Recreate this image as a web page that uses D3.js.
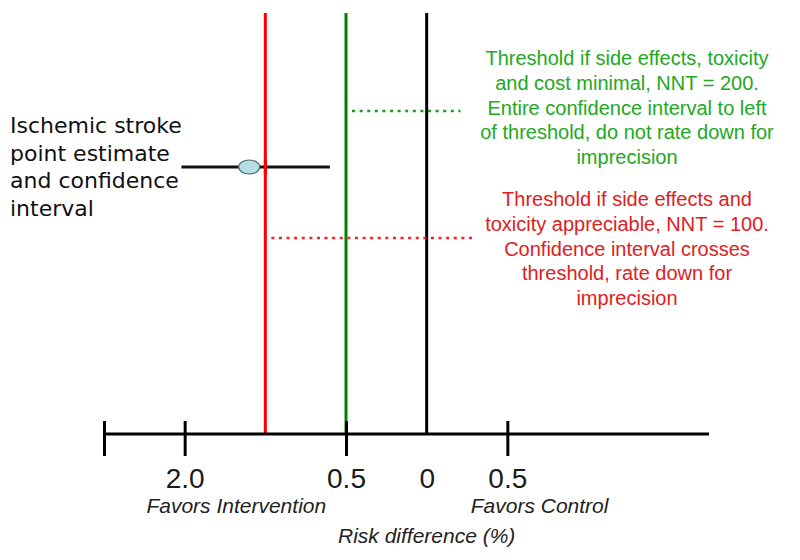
<!DOCTYPE html>
<html>
<head>
<meta charset="utf-8">
<script src="https://cdn.jsdelivr.net/npm/d3@7"></script>
<style>
    body { margin: 0; background: #fff; }
    svg { display: block; }
</style>
</head>
<body>
<script>
// data
const tickValues = [-2, -1.5, -0.5, 0, 0.5]
const tickLabels = ["", "2.0", "0.5", "0", "0.5"]
const thresholdValues = [-1, -0.5, 0]
const estimate = [-1.1]
const ciLow = [-1.52]
const ciHigh = [-0.6]

const strokeLabel = ["Ischemic stroke", "point estimate", "and confidence", "interval"]
const greenNote = ["Threshold if side effects, toxicity", "and cost minimal, NNT = 200.",
    "Entire confidence interval to left", "of threshold, do not rate down for", "imprecision"]
const redNote = ["Threshold if side effects and", "toxicity appreciable, NNT = 100.",
    "Confidence interval crosses", "threshold, rate down for", "imprecision"]
const sideLabels = ["Favors Intervention", "Favors Control"]
const axisTitle = "Risk difference (%)"

//----------------------------------------------------------------------------------------------
const width = 800
const height = 560
const axisY = 434
const lineTop = 13

const svg = d3.select("body")
    .append("svg")
    .attr("width", width)
    .attr("height", height)

const x = d3.scaleLinear()
    .domain([-2, 1.75])
    .range([104, 709])

const lineColor = d3.scaleOrdinal()
    .domain(thresholdValues)
    .range(["#ff0000", "#008000", "#000000"])

//vertical threshold lines
svg.append("g")
    .selectAll("line")
    .data(thresholdValues)
    .join("line")
    .attr("x1", d => x(d))
    .attr("x2", d => x(d))
    .attr("y1", lineTop)
    .attr("y2", axisY)
    .attr("stroke", d => lineColor(d))
    .attr("stroke-width", 3)

//dotted pointers from thresholds to the notes
const pointers = [
    { from: -0.5, to: 0.21, y: 111, color: "#1a9c1a" },
    { from: -1, to: 0.29, y: 238, color: "#ff2020" }
]
svg.append("g")
    .selectAll("line")
    .data(pointers)
    .join("line")
    .attr("x1", d => x(d.from) + 6)
    .attr("x2", d => x(d.to))
    .attr("y1", d => d.y)
    .attr("y2", d => d.y)
    .attr("stroke", d => d.color)
    .attr("stroke-width", 2.5)
    .attr("stroke-dasharray", "3,4.6")

//axis
const axis = d3.axisBottom(x)
    .tickValues(tickValues)
    .tickSizeOuter(0)
    .tickFormat((d, i) => tickLabels[i])

const gAxis = svg.append("g")
    .attr("transform", `translate(0,${axisY})`)
    .call(axis)

gAxis.select(".domain")
    .attr("stroke", "#000")
    .attr("stroke-width", 3)
    .attr("d", `M${x.range()[0]},0H${x.range()[1]}`)

gAxis.selectAll(".tick line")
    .attr("stroke", "#000")
    .attr("stroke-width", 3)
    .attr("y1", -13)
    .attr("y2", 22)
    .attr("display", d => d == 0 ? "none" : null)

gAxis.selectAll(".tick text")
    .attr("y", 54)
    .attr("dy", null)
    .attr("fill", "#1a1a1a")
    .style("font-family", "'Liberation Sans', Arial, sans-serif")
    .style("font-size", "28px")

//side labels under the axis
svg.append("g")
    .selectAll("text")
    .data(sideLabels)
    .join("text")
    .attr("x", (d, i) => i == 0 ? x(-1.18) : x(0.7))
    .attr("y", 513)
    .attr("text-anchor", "middle")
    .attr("fill", "#222")
    .style("font-family", "'Liberation Sans', Arial, sans-serif")
    .style("font-style", "italic")
    .style("font-size", "21px")
    .text(d => d)

svg.append("text")
    .attr("x", x(0))
    .attr("y", 543)
    .attr("text-anchor", "middle")
    .attr("fill", "#222")
    .style("font-family", "'Liberation Sans', Arial, sans-serif")
    .style("font-style", "italic")
    .style("font-size", "21px")
    .text(axisTitle)

//point estimate and confidence interval
const ciY = 167
svg.append("line")
    .attr("x1", x(ciLow[0]))
    .attr("x2", x(ciHigh[0]))
    .attr("y1", ciY)
    .attr("y2", ciY)
    .attr("stroke", "#111")
    .attr("stroke-width", 3)

svg.append("ellipse")
    .attr("cx", x(estimate[0]))
    .attr("cy", ciY)
    .attr("rx", 10.5)
    .attr("ry", 7)
    .attr("fill", "#b7dee4")
    .attr("stroke", "#4e6d73")
    .attr("stroke-width", 1.2)

// redraw red line piece over the marker like the original
svg.append("line")
    .attr("x1", x(-1))
    .attr("x2", x(-1))
    .attr("y1", ciY - 8)
    .attr("y2", ciY + 8)
    .attr("stroke", "#ff0000")
    .attr("stroke-width", 3)

//label of the estimate
svg.append("text")
    .attr("fill", "#111")
    .style("font-family", "'Comic Sans MS', 'DejaVu Sans', sans-serif")
    .style("font-size", "22px")
    .selectAll("tspan")
    .data(strokeLabel)
    .join("tspan")
    .attr("x", 10)
    .attr("y", (d, i) => 133 + i * 27.5)
    .text(d => d)

//notes on the right
function note(lines, top, color) {
    svg.append("text")
        .attr("fill", color)
        .attr("text-anchor", "middle")
        .style("font-family", "'Liberation Sans', Arial, sans-serif")
        .style("font-size", "20px")
        .selectAll("tspan")
        .data(lines)
        .join("tspan")
        .attr("x", 627)
        .attr("y", (d, i) => top + i * 24.8)
        .text(d => d)
}
note(greenNote, 65, "#22a822")
note(redNote, 206, "#e0201e")
</script>
</body>
</html>
